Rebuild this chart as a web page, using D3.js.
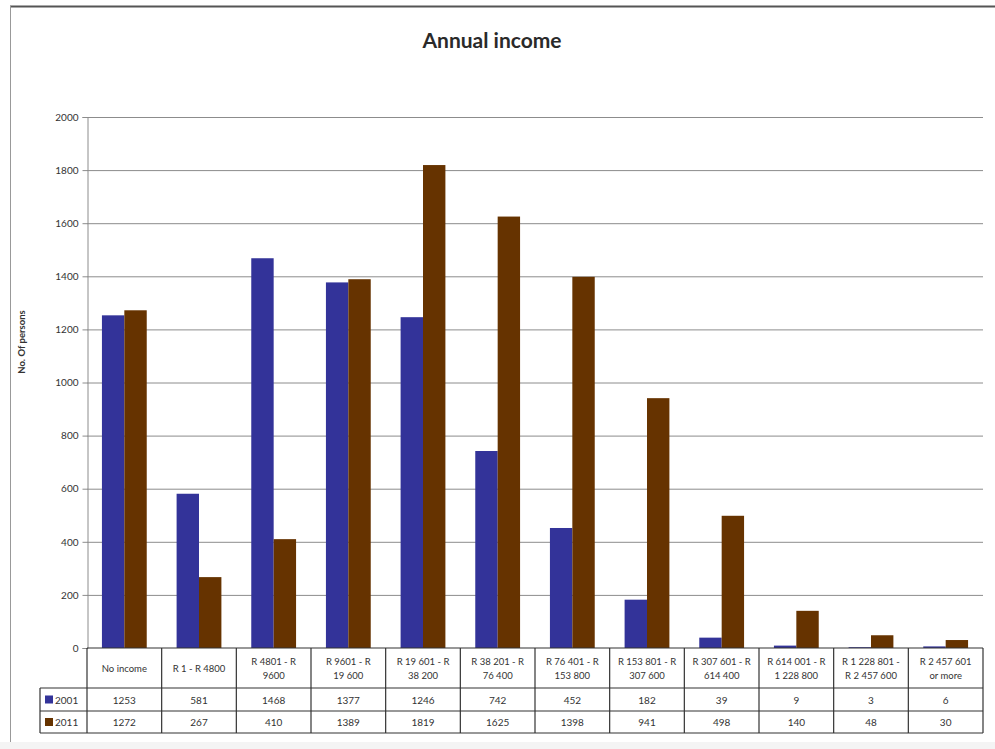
<!DOCTYPE html>
<html>
<head>
<meta charset="utf-8">
<script src="https://cdn.jsdelivr.net/npm/d3@7"></script>
<style>
  html, body { margin: 0; padding: 0; background: #fff; }
  svg { display: block; font-family: Lato, "Open Sans", sans-serif; }
</style>
</head>
<body>
<svg id="chart" width="995" height="749"></svg>
<script>
// Income bands (header rows of the data table)
const categories = [
  ["No income"],
  ["R 1 - R 4800"],
  ["R 4801 - R", "9600"],
  ["R 9601 - R", "19 600"],
  ["R 19 601 - R", "38 200"],
  ["R 38 201 - R", "76 400"],
  ["R 76 401 - R", "153 800"],
  ["R 153 801 - R", "307 600"],
  ["R 307 601 - R", "614 400"],
  ["R 614 001 - R", "1 228 800"],
  ["R 1 228 801 -", "R 2 457 600"],
  ["R 2 457 601", "or more"]
];
const seriesNames = ["2001", "2011"];
const values2001 = [1253, 581, 1468, 1377, 1246, 742, 452, 182, 39, 9, 3, 6];
const values2011 = [1272, 267, 410, 1389, 1819, 1625, 1398, 941, 498, 140, 48, 30];
const yTicks = [0, 200, 400, 600, 800, 1000, 1200, 1400, 1600, 1800, 2000];
const seriesColors = ["#333399", "#663300"];

const svg = d3.select("#chart");
const seriesValues = [values2001, values2011];
const catKeys = categories.map((c, i) => i);

// Layout
const plotLeft = 87, plotRight = 983, plotTop = 117, plotBottom = 648;
const headerBottom = 688, row1Bottom = 711, row2Bottom = 733, legendLeft = 40;

// Frame
svg.append("rect").attr("x", 0).attr("y", 742).attr("width", 995).attr("height", 7).attr("fill", "#f4f4f4");
svg.append("line").attr("x1", 10).attr("x2", 995).attr("y1", 6.5).attr("y2", 6.5)
  .attr("stroke", "#555").attr("stroke-width", 2);
svg.append("line").attr("x1", 10.5).attr("x2", 10.5).attr("y1", 6).attr("y2", 742)
  .attr("stroke", "#999").attr("stroke-width", 1);

// Title
svg.append("text").attr("x", 492).attr("y", 48).attr("text-anchor", "middle")
  .attr("font-size", 21).attr("font-weight", "bold").attr("fill", "#2a2a2a")
  .text("Annual income");

// Scales
const x = d3.scaleBand().domain(catKeys).range([plotLeft, plotRight]).paddingInner(0).paddingOuter(0);
const xs = d3.scaleBand().domain(seriesNames)
  .range([x.bandwidth() * 0.2, x.bandwidth() * 0.8]);
const y = d3.scaleLinear().domain([0, 2000]).range([plotBottom, plotTop]);

// Gridlines
svg.append("g").selectAll("line").data(yTicks.filter(t => t > 0)).join("line")
  .attr("x1", plotLeft).attr("x2", plotRight)
  .attr("y1", d => y(d) + 0.5).attr("y2", d => y(d) + 0.5)
  .attr("stroke", "#8c8c8c").attr("stroke-width", 1);

// Y axis
const yAxis = svg.append("g").attr("transform", `translate(${plotLeft + 0.5},0)`)
  .call(d3.axisLeft(y).tickValues(yTicks).tickSize(5).tickPadding(4).tickFormat(d3.format("d")));
yAxis.select(".domain").attr("stroke", "#8c8c8c");
yAxis.selectAll(".tick line").attr("stroke", "#8c8c8c");
yAxis.selectAll(".tick text").attr("font-size", 10).attr("fill", "#333").attr("font-family", "Lato, sans-serif");

svg.append("text")
  .attr("transform", `translate(25,342) rotate(-90)`)
  .attr("text-anchor", "middle").attr("font-size", 9.5).attr("font-weight", "bold").attr("fill", "#333")
  .text("No. Of persons");

// Bars
const groups = svg.append("g").selectAll("g").data(catKeys).join("g")
  .attr("transform", d => `translate(${x(d)},0)`);
groups.selectAll("rect")
  .data(i => seriesNames.map((s, k) => ({ s, k, v: seriesValues[k][i] })))
  .join("rect")
  .attr("x", d => xs(d.s))
  .attr("width", xs.bandwidth())
  .attr("y", d => y(d.v))
  .attr("height", d => plotBottom - y(d.v))
  .attr("fill", d => seriesColors[d.k]);

// Data table
const tbl = svg.append("g").attr("stroke", "#333").attr("stroke-width", 1.2);
tbl.append("line").attr("x1", plotLeft).attr("x2", plotRight).attr("y1", plotBottom).attr("y2", plotBottom);
[headerBottom, row1Bottom, row2Bottom].forEach(yy => {
  tbl.append("line").attr("x1", legendLeft).attr("x2", plotRight).attr("y1", yy).attr("y2", yy);
});
tbl.append("line").attr("x1", legendLeft).attr("x2", legendLeft).attr("y1", headerBottom).attr("y2", row2Bottom);
catKeys.concat([categories.length]).forEach(i => {
  const xx = i < categories.length ? x(i) : plotRight;
  tbl.append("line").attr("x1", xx).attr("x2", xx).attr("y1", plotBottom).attr("y2", row2Bottom);
});

// Header labels
const hdr = svg.append("g").attr("font-size", 9.5).attr("fill", "#333").attr("text-anchor", "middle");
categories.forEach((lines, i) => {
  const cx = x(i) + x.bandwidth() / 2;
  const cy = (plotBottom + headerBottom) / 2;
  const t = hdr.append("text").attr("x", cx);
  lines.forEach((ln, j) => {
    t.append("tspan").attr("x", cx)
      .attr("y", cy + 3.5 + (j - (lines.length - 1) / 2) * 14)
      .text(ln);
  });
});

// Value rows with legend keys
const rowsY = [(headerBottom + row1Bottom) / 2, (row1Bottom + row2Bottom) / 2];
seriesNames.forEach((s, k) => {
  svg.append("rect").attr("x", 45).attr("y", rowsY[k] - 4).attr("width", 8).attr("height", 8)
    .attr("fill", seriesColors[k]);
  svg.append("text").attr("x", 55).attr("y", rowsY[k] + 4).attr("font-size", 10).attr("fill", "#333")
    .text(s);
  svg.append("g").selectAll("text").data(seriesValues[k]).join("text")
    .attr("x", (d, i) => x(i) + x.bandwidth() / 2)
    .attr("y", rowsY[k] + 4)
    .attr("text-anchor", "middle").attr("font-size", 10).attr("fill", "#333")
    .text(d => d);
});
</script>
</body>
</html>
